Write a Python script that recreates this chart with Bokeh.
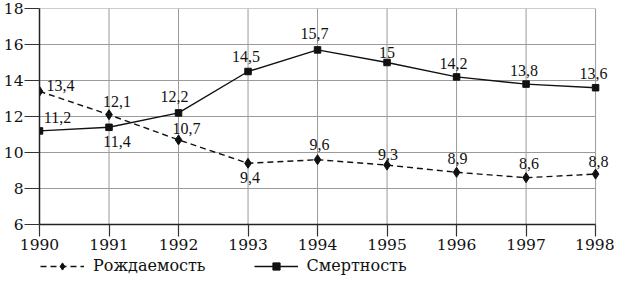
from bokeh.plotting import figure
from bokeh.layouts import column
from bokeh.models import (ColumnDataSource, Range1d, FixedTicker, LabelSet,
                          Legend, LegendItem)
from bokeh.embed import file_html
from bokeh.resources import INLINE

years = [1990, 1991, 1992, 1993, 1994, 1995, 1996, 1997, 1998]
birth = [13.4, 12.1, 10.7, 9.4, 9.6, 9.3, 8.9, 8.6, 8.8]
death = [11.2, 11.4, 12.2, 14.5, 15.7, 15.0, 14.2, 13.8, 13.6]
birth_text = ["13,4", "12,1", "10,7", "9,4", "9,6", "9,3", "8,9", "8,6", "8,8"]
death_text = ["11,2", "11,4", "12,2", "14,5", "15,7", "15", "14,2", "13,8", "13,6"]
y_ticks = [6, 8, 10, 12, 14, 16, 18]
series_names = ["Рождаемость", "Смертность"]

# label placement (screen px) - style only
birth_dx = [21, 8, 8, 2, 2, 1, 1, 3, 3]
birth_dy = [6, 13, 11, -14, 15, 11, 14, 14, 13]
death_dx = [18, 8, -4, -2, -3, 0, -3, -2, -2]
death_dy = [13, -14, 16, 15, 16, 10, 13, 14, 14]

FONT = "DejaVu Serif"
INK = "#111111"

x_lo, x_hi = years[0], years[-1]
y_lo, y_hi = y_ticks[0], y_ticks[-1]

p = figure(width=614, height=257, output_backend="svg", toolbar_location=None,
           x_range=Range1d(x_lo, x_hi + 0.272), y_range=Range1d(y_lo, y_hi),
           min_border_left=37, min_border_right=0, min_border_top=8,
           min_border_bottom=33)
p.outline_line_color = None
p.background_fill_color = "white"
p.xgrid.visible = False
p.ygrid.visible = False

# grid lines, limited to the data span
p.segment(x0=[x_lo] * len(y_ticks), x1=[x_hi] * len(y_ticks), y0=y_ticks, y1=y_ticks,
          line_color="#9a9a9a", line_width=1)
p.segment(x0=years, x1=years, y0=[y_lo] * len(years), y1=[y_hi] * len(years),
          line_color="#9a9a9a", line_width=1)

for ax, ticks in ((p.xaxis[0], years), (p.yaxis[0], y_ticks)):
    ax.ticker = FixedTicker(ticks=ticks)
    ax.minor_tick_line_color = None
    ax.major_tick_in = 0
    ax.major_label_text_font = FONT
    ax.major_label_text_font_size = "15.5px"
    ax.major_label_text_color = INK
    ax.major_tick_line_color = "#333333"
    ax.major_tick_line_width = 1.2
    ax.axis_line_color = "#222222"
    ax.axis_line_width = 1.5
p.xaxis.bounds = (x_lo, x_hi)
p.xaxis.major_tick_out = 12
p.xaxis.major_label_standoff = 2
p.yaxis.major_tick_out = 15
p.yaxis.major_label_standoff = 1

src_b = ColumnDataSource(dict(x=years, y=birth, t=birth_text, dx=birth_dx, dy=birth_dy))
src_d = ColumnDataSource(dict(x=years, y=death, t=death_text, dx=death_dx, dy=death_dy))

def draw(fig):
    lb = fig.line("x", "y", source=src_b, line_color=INK, line_width=1.4, line_dash="6 4")
    mb = fig.scatter("x", "y", source=src_b, marker="diamond", size=10, fill_color=INK,
                     line_color=INK)
    ld = fig.line("x", "y", source=src_d, line_color=INK, line_width=1.4)
    md = fig.scatter("x", "y", source=src_d, marker="square", size=6.5, fill_color=INK,
                     line_color=INK)
    return lb, mb, ld, md

draw(p)

for src in (src_b, src_d):
    p.add_layout(LabelSet(x="x", y="y", text="t", source=src, x_offset="dx",
                          y_offset="dy", text_align="center", text_baseline="middle",
                          text_font=FONT, text_font_size="16px", text_color=INK))

# legend strip below the chart (its data lies outside its own view)
q = figure(width=614, height=18, output_backend="svg", toolbar_location=None,
           x_range=Range1d(0, 1), y_range=Range1d(100, 101),
           x_axis_type=None, y_axis_type=None,
           min_border_left=0, min_border_right=0, min_border_top=0, min_border_bottom=0)
q.outline_line_color = None
q.xgrid.visible = False
q.ygrid.visible = False
lb, mb, ld, md = draw(q)
legend = Legend(items=[LegendItem(label=series_names[0], renderers=[lb, mb]),
                       LegendItem(label=series_names[1], renderers=[ld, md])],
                orientation="horizontal", location=(1, 0),
                glyph_width=44, glyph_height=18, label_height=18,
                label_standoff=9, spacing=48,
                padding=0, margin=0, border_line_color=None,
                background_fill_alpha=0, label_text_font=FONT,
                label_text_font_size="16px", label_text_color=INK)
q.add_layout(legend, "center")

open("out.html", "w").write(file_html(column(p, q), INLINE))
